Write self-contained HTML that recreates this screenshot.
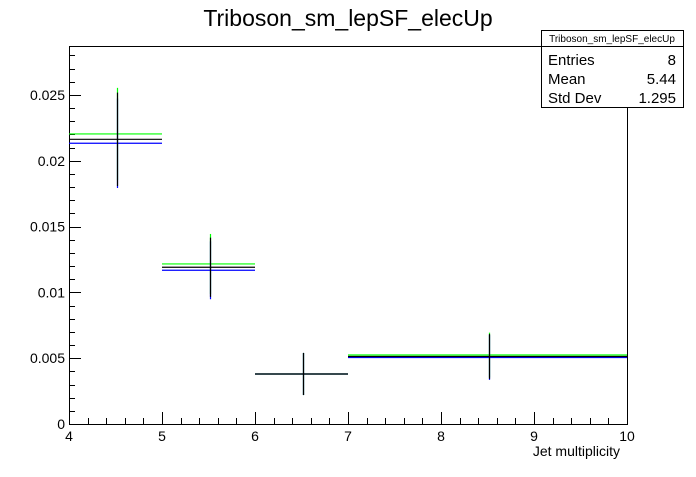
<!DOCTYPE html>
<html><head><meta charset="utf-8"><style>
body{margin:0;background:#fff;font-family:"Liberation Sans",sans-serif}
svg text{font-family:"Liberation Sans",sans-serif}
</style></head><body>
<svg id="c" width="696" height="472">
<rect width="696" height="472" fill="#fff"/>
<text x="348" y="26" font-size="23" text-anchor="middle">Triboson_sm_lepSF_elecUp</text>
<g id="axes"></g><g id="marks"></g>
<g>
<rect x="541.5" y="30.5" width="142" height="77" fill="#fff" stroke="#000"/>
<line x1="541" y1="46.5" x2="684" y2="46.5" stroke="#000"/>
<text x="612" y="42" font-size="10" text-anchor="middle">Triboson_sm_lepSF_elecUp</text>
<text x="548" y="65" font-size="15">Entries</text><text x="676" y="65" font-size="15" text-anchor="end">8</text>
<text x="548" y="84" font-size="15">Mean</text><text x="676" y="84" font-size="15" text-anchor="end">5.44</text>
<text x="548" y="103" font-size="15">Std Dev</text><text x="676" y="103" font-size="15" text-anchor="end">1.295</text>
</g>
</svg>
<script>
const binLo=[4,5,6,7];
const binHi=[5,6,7,10];
const black=[0.02163,0.01191,0.0038,0.00513];
const blackErr=[0.00355,0.00225,0.0016,0.0017];
const green=[0.02204,0.01216,0.0038,0.00524];
const greenErr=[0.0035,0.00228,0.0016,0.0017];
const blue=[0.02133,0.01168,0.0038,0.00505];
const blueErr=[0.0034,0.0022,0.0016,0.0017];
const yTicks=[0,0.005,0.01,0.015,0.02,0.025];
const yTickLabels=["0","0.005","0.01","0.015","0.02","0.025"];
const xTicks=[4,5,6,7,8,9,10];
const NS="http://www.w3.org/2000/svg";
const X0=69,X1=627,Y0=424,YT=46,xmin=4,xmax=10,ymax=0.02872;
const sx=v=>X0+(v-xmin)/(xmax-xmin)*(X1-X0);
const sy=v=>Y0-v/ymax*(Y0-YT);
function mk(p,t,a){const e=document.createElementNS(NS,t);for(const k in a)e.setAttribute(k,a[k]);p.appendChild(e);return e;}
const ax=document.getElementById('axes'),mg=document.getElementById('marks');
const fr=mk(ax,'rect',{x:X0+.5,y:YT+.5,width:X1-X0,height:Y0-YT,fill:'none',stroke:'#000'});


for(let v=0;v<=ymax+1e-9;v+=0.001){const y=Math.round(sy(v))+.5;const maj=Math.abs(v/0.005-Math.round(v/0.005))<1e-6;
mk(ax,'line',{x1:X0,x2:X0+(maj?12:6),y1:y,y2:y,stroke:'#000'});}
yTicks.forEach((v,i)=>{const t=mk(ax,'text',{x:X0-4,y:sy(v)+5,'font-size':14,'text-anchor':'end'});t.textContent=yTickLabels[i];

});
for(let v=4;v<=10.001;v+=0.2){const x=Math.round(sx(v))+.5;const maj=Math.abs(v-Math.round(v))<1e-6;
mk(ax,'line',{x1:x,x2:x,y1:Y0,y2:Y0-(maj?12:6),stroke:'#000'});}
xTicks.forEach(v=>{const t=mk(ax,'text',{x:sx(v),y:Y0+17,'font-size':14,'text-anchor':'middle'});t.textContent=v;

});
const xt=mk(ax,'text',{x:620,y:456,'font-size':14,'text-anchor':'end'});xt.textContent='Jet multiplicity';


function series(vals,errs,col,name){binLo.forEach((lo,i)=>{const g=mk(mg,'g',{stroke:col,'stroke-width':1.2});


const y=sy(vals[i]),xm=Math.round(sx((lo+binHi[i])/2))+1.5;
mk(g,'line',{x1:sx(lo),x2:sx(binHi[i]),y1:y,y2:y});
mk(g,'line',{x1:xm,x2:xm,y1:sy(vals[i]+errs[i]),y2:sy(vals[i]-errs[i])});});}
series(green,greenErr,'#00ff00','green-series');
series(blue,blueErr,'#0000ff','blue-series');
series(black,blackErr,'#000','black-series');
</script>
</body></html>
